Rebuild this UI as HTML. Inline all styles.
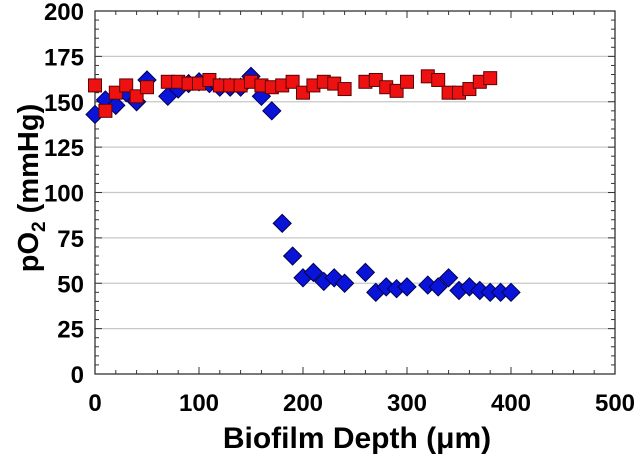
<!DOCTYPE html>
<html><head><meta charset="utf-8"><style>
html,body{margin:0;padding:0;background:#fff;}
svg{display:block;font-family:"Liberation Sans",Arial,sans-serif;font-weight:bold;}
</style></head><body>
<svg id="chart" width="636" height="457" viewBox="0 0 636 457" xmlns="http://www.w3.org/2000/svg">
<g id="grid"></g>
<g id="ticks"></g>
<rect x="95" y="11" width="520" height="363" fill="none" stroke="#333" stroke-width="1.3"/>
<g id="xlabels"></g>
<g id="ylabels"></g>
<g id="blue"></g>
<g id="red"></g>
<text x="357" y="448" text-anchor="middle" font-size="30">Biofilm Depth (μm)</text>
<text transform="translate(38,188) rotate(-90)" text-anchor="middle" font-size="29">pO<tspan font-size="19" dy="7">2</tspan><tspan dy="-7"> (mmHg)</tspan></text>
</svg>
<script>
const xTicks=[0,100,200,300,400,500];
const yTicks=[0,25,50,75,100,125,150,175,200];
const redX=[0,10,20,30,40,50,70,80,90,100,110,120,130,140,150,160,170,180,190,200,210,220,230,240,260,270,280,290,300,320,330,340,350,360,370,380];
const redY=[159,145,155,159,153,158,161,161,160,160,162,159,159,159,161,159,158,159,161,155,159,161,160,157,161,162,158,156,161,164,162,155,155,157,161,163];
const blueX=[0,10,20,30,40,50,70,80,90,100,110,120,130,140,150,160,170,180,190,200,210,220,230,240,260,270,280,290,300,320,330,340,350,360,370,380,390,400];
const blueY=[143,151,148,155,150,162,153,157,160,161,160,158,158,158,164,153,145,83,65,53,56,51,53,50,56,45,48,47,48,49,48,53,46,48,46,45,45,45];
const X0=95,X1=615,Y0=374,Y1=11;
const sx=v=>X0+(v-0)/500*(X1-X0);
const sy=v=>Y0-(v-0)/200*(Y0-Y1);
const NS="http://www.w3.org/2000/svg";
function mk(tag,attrs,parent){const e=document.createElementNS(NS,tag);for(const k in attrs)e.setAttribute(k,attrs[k]);parent.appendChild(e);return e;}
const grid=document.getElementById('grid'),ticks=document.getElementById('ticks');
yTicks.forEach(v=>{if(v>0&&v<200){const l=mk('line',{x1:X0,x2:X1,y1:sy(v),y2:sy(v),stroke:'#c8c8c8','stroke-width':1.2},grid);

}});
for(let v=0;v<=200;v+=5){const major=v%25===0,len=major?7:4;
[[X0,X0+len],[X1,X1-len]].forEach(p=>{const t=mk('line',{x1:p[0],x2:p[1],y1:sy(v),y2:sy(v),stroke:'#333','stroke-width':1},ticks);

});}
for(let v=0;v<=500;v+=20){const major=v%100===0,len=major?7:4;
[[Y0,Y0-len],[Y1,Y1+len]].forEach(p=>{const t=mk('line',{x1:sx(v),x2:sx(v),y1:p[0],y2:p[1],stroke:'#333','stroke-width':1},ticks);

});}
const xl=document.getElementById('xlabels'),yl=document.getElementById('ylabels');
xTicks.forEach(v=>{const t=mk('text',{x:sx(v),y:411,'text-anchor':'middle','font-size':24},xl);t.textContent=v;

});
yTicks.forEach(v=>{const t=mk('text',{x:84,y:sy(v)+9,'text-anchor':'end','font-size':24},yl);t.textContent=v;

});
const blue=document.getElementById('blue'),red=document.getElementById('red');
blueX.forEach((x,i)=>{const cx=sx(x),cy=sy(blueY[i]),r=9;
const p=mk('polygon',{points:`${cx},${cy-r} ${cx+r},${cy} ${cx},${cy+r} ${cx-r},${cy}`,fill:'#0a14d8',stroke:'#000050','stroke-width':1},blue);

});
redX.forEach((x,i)=>{const cx=sx(x),cy=sy(redY[i]),h=6.5;
const p=mk('rect',{x:cx-h,y:cy-h,width:2*h,height:2*h,fill:'#ee1111',stroke:'#600000','stroke-width':1},red);

});
</script>
</body></html>
